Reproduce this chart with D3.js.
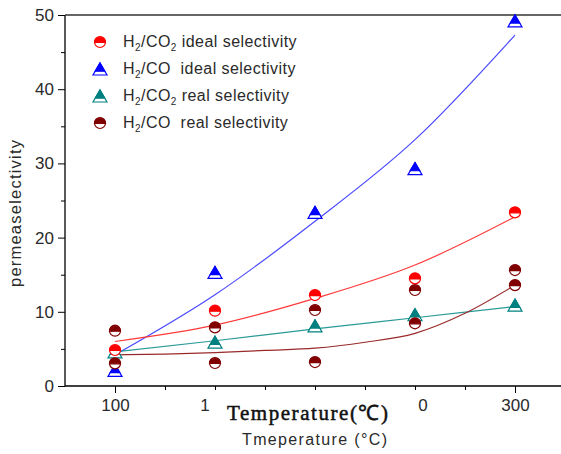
<!DOCTYPE html>
<html>
<head>
<meta charset="utf-8">
<script src="https://cdn.jsdelivr.net/npm/d3@7"></script>
<style>
  html, body { margin: 0; padding: 0; background: #fff; }
  svg { display: block; }
</style>
</head>
<body>
<svg id="chart" width="561" height="454"></svg>
<script>
// Measured temperatures (°C)
const temps = [100, 150, 200, 250, 300];

// Selectivity measurements
const h2co2Ideal = [4.85, 10.15, 12.26, 14.5, 23.4];
const h2coIdeal  = [2.1, 15.3, 23.4, 29.3, 49.2];
const h2co2Real  = [4.6, 5.9, 8.1, 9.6, 10.9];
const h2coReal   = [3.05, 3.1, 3.23, 8.45, 13.6];
const h2coRealB  = [7.45, 7.9, 10.24, 12.94, 15.63];

// Fitted trend curves
const fitTemps       = [100, 150, 200, 250, 300];
const fitH2co2Ideal  = [6.0, 8.2, 11.8, 16.3, 22.8];
const fitH2coIdeal   = [4.2, 12.3, 22.2, 33.2, 47.3];
const fitH2co2Real   = [4.6, 6.1, 7.7, 9.2, 10.7];
const fitTempsCo     = [100, 125, 150, 175, 200, 225, 250, 275, 300];
const fitH2coReal    = [4.2, 4.3, 4.5, 4.8, 5.1, 5.9, 7.1, 9.8, 13.6];

// Axis ticks
const yMajorTicks = [0, 10, 20, 30, 40, 50];
const yMinorTicks = [5, 15, 25, 35, 45];
const xMajorTicks = [100, 300];
const xMinorTicks = [125, 150, 175, 200, 225, 250, 275];
const xExtraLabels = [{t: 145, text: "1"}, {t: 254, text: "0"}];

const svg = d3.select("#chart");
const x = d3.scaleLinear().domain([75, 325]).range([65, 565]);
const y = d3.scaleLinear().domain([0, 50]).range([386, 15]);

const sans = "'Liberation Sans', Arial, sans-serif";

// Frame: left axis, bottom axis, top border
svg.append("line").attr("x1", 65).attr("x2", 65).attr("y1", 15).attr("y2", 386)
  .attr("stroke", "#000").attr("stroke-width", 1.3);
svg.append("line").attr("x1", 65).attr("x2", 561).attr("y1", 386).attr("y2", 386)
  .attr("stroke", "#000").attr("stroke-width", 1.3);
svg.append("line").attr("x1", 65).attr("x2", 561).attr("y1", 15).attr("y2", 15)
  .attr("stroke", "#333").attr("stroke-width", 1.3);

// Y axis ticks
const yAxis = d3.axisLeft(y).tickValues(yMajorTicks).tickSize(7).tickPadding(4);
const gy = svg.append("g").attr("transform", "translate(65,0)").call(yAxis);
gy.select(".domain").remove();
gy.selectAll("text").attr("font-family", sans).attr("font-size", 17).attr("fill", "#2a2a2a");
svg.append("g").attr("transform", "translate(65,0)")
  .call(d3.axisLeft(y).tickValues(yMinorTicks).tickSize(4).tickFormat(""))
  .select(".domain").remove();

// X axis ticks
const gx = svg.append("g").attr("transform", "translate(0,386)")
  .call(d3.axisBottom(x).tickValues(xMajorTicks).tickSize(7).tickPadding(6));
gx.select(".domain").remove();
gx.selectAll("text").attr("font-family", sans).attr("font-size", 17).attr("fill", "#2a2a2a");
svg.append("g").attr("transform", "translate(0,386)")
  .call(d3.axisBottom(x).tickValues(xMinorTicks).tickSize(4).tickFormat(""))
  .select(".domain").remove();
svg.selectAll(".tick line").attr("stroke", "#000");

svg.selectAll("text.xextra").data(xExtraLabels).enter().append("text")
  .attr("class", "xextra")
  .attr("x", d => x(d.t)).attr("y", 411)
  .attr("text-anchor", "middle")
  .attr("font-family", sans).attr("font-size", 17).attr("fill", "#2a2a2a")
  .text(d => d.text);

// Axis titles
svg.append("text").attr("x", 227).attr("y", 420)
  .attr("font-family", "'Liberation Serif', 'Times New Roman', serif")
  .attr("font-size", 21).attr("fill", "#111")
  .attr("stroke", "#111").attr("stroke-width", 0.5)
  .attr("textLength", 161).attr("lengthAdjust", "spacing")
  .text("Temperature(℃)");
svg.append("text").attr("x", 242).attr("y", 445)
  .attr("font-family", sans).attr("font-size", 16).attr("fill", "#2a2a2a")
  .attr("textLength", 145).attr("lengthAdjust", "spacing")
  .text("Tmeperature (°C)");
svg.append("text").attr("transform", "translate(21,287) rotate(-90)")
  .attr("font-family", sans).attr("font-size", 16.5).attr("fill", "#2a2a2a")
  .attr("textLength", 147).attr("lengthAdjust", "spacing")
  .text("permeaselectivity");

// Fit curves
const line = d3.line().x(d => x(d[0])).y(d => y(d[1])).curve(d3.curveMonotoneX);
function fitCurve(ts, vs, color) {
  svg.append("path").datum(d3.zip(ts, vs)).attr("d", line)
    .attr("fill", "none").attr("stroke", color).attr("stroke-width", 1.2);
}
fitCurve(fitTemps, fitH2coIdeal, "#4a4aff");
fitCurve(fitTemps, fitH2co2Ideal, "#ff3a3a");
fitCurve(fitTemps, fitH2co2Real, "#2a9a98");
fitCurve(fitTempsCo, fitH2coReal, "#9a2a2a");

// Marker drawing: half-filled circles and half-filled triangles
function halfCircle(g, cx, cy, color) {
  const r = 5.5;
  g.append("circle").attr("cx", cx).attr("cy", cy).attr("r", r)
    .attr("fill", "#fff").attr("stroke", color).attr("stroke-width", 1.2);
  g.append("path")
    .attr("d", `M${cx - r},${cy + 0.5} A${r},${r} 0 0 1 ${cx + r},${cy + 0.5} Z`)
    .attr("fill", color).attr("stroke", color).attr("stroke-width", 1.2);
}
function halfTriangle(g, cx, cy, color) {
  const w = 14, h = 12;
  const top = cy - h / 2, bot = cy + h / 2;
  g.append("path")
    .attr("d", `M${cx},${top} L${cx + w / 2},${bot} L${cx - w / 2},${bot} Z`)
    .attr("fill", "#fff").attr("stroke", color).attr("stroke-width", 1.2);
  const cut = top + h * 0.68;
  const half = (w / 2) * (cut - top) / h;
  g.append("path")
    .attr("d", `M${cx},${top} L${cx + half},${cut} L${cx - half},${cut} Z`)
    .attr("fill", color).attr("stroke", color).attr("stroke-width", 1.2);
}
function series(vals, color, shape) {
  const g = svg.append("g");
  vals.forEach((v, i) => shape(g, x(temps[i]), y(v), color));
}
series(h2coIdeal, "#0000ff", halfTriangle);
series(h2co2Real, "#008080", halfTriangle);
series(h2coRealB, "#800000", halfCircle);
series(h2coReal, "#800000", halfCircle);
series(h2co2Ideal, "#ff0000", halfCircle);

// Legend
const legendItems = [
  {color: "#ff0000", shape: halfCircle, sub2: true, rest: " ideal selectivity"},
  {color: "#0000ff", shape: halfTriangle, sub2: false, rest: "  ideal selectivity"},
  {color: "#008080", shape: halfTriangle, sub2: true, rest: " real selectivity"},
  {color: "#800000", shape: halfCircle, sub2: false, rest: "  real selectivity"}
];
const lg = svg.append("g");
legendItems.forEach((d, i) => {
  const cy = 42 + i * 27;
  d.shape(lg, 100, cy, d.color);
  const t = lg.append("text").attr("x", 123).attr("y", cy + 5)
    .attr("font-family", sans).attr("font-size", 16).attr("fill", "#2a2a2a")
    .attr("letter-spacing", 0.45)
    .attr("xml:space", "preserve");
  t.append("tspan").text("H");
  t.append("tspan").attr("font-size", 10).attr("dy", 4).text("2");
  t.append("tspan").attr("dy", -4).text("/CO");
  if (d.sub2) {
    t.append("tspan").attr("font-size", 10).attr("dy", 4).text("2");
    t.append("tspan").attr("dy", -4).text(d.rest);
  } else {
    t.append("tspan").text(d.rest);
  }
});
</script>
</body>
</html>
